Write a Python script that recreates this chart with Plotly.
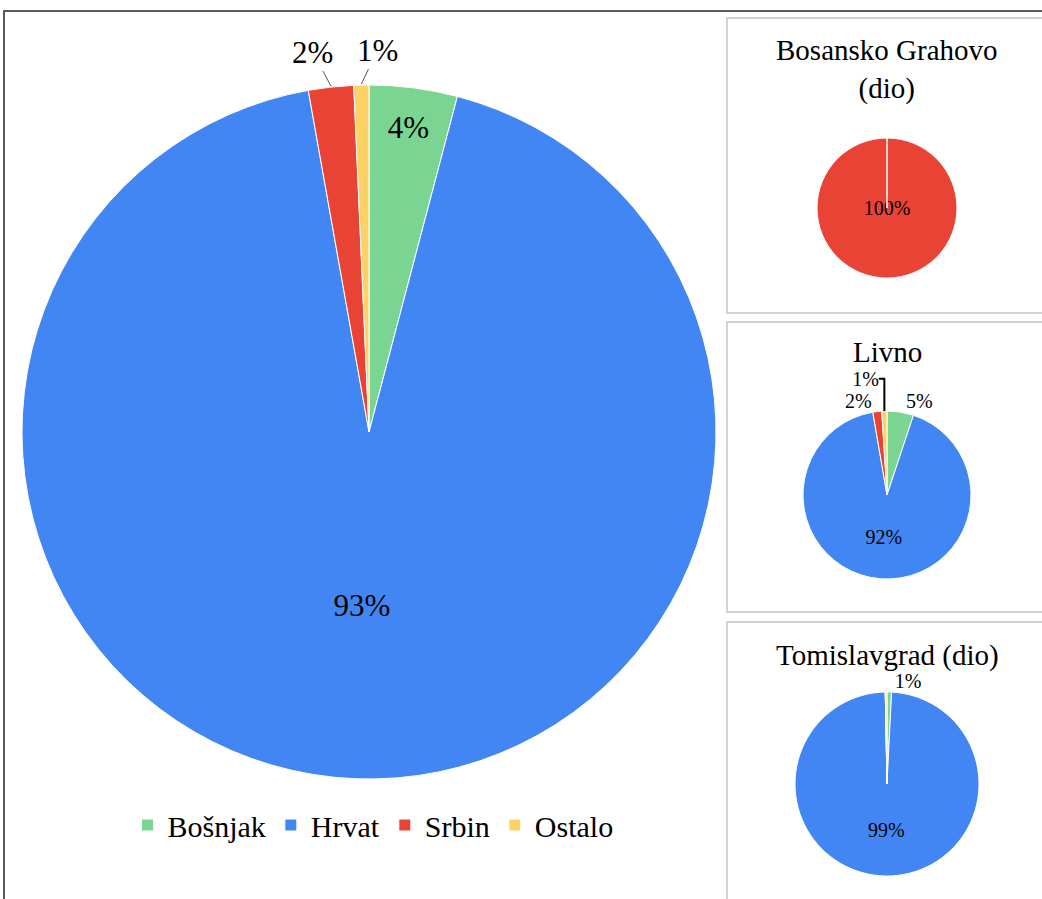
import math
import plotly.graph_objects as go

W, H = 1042, 899

categories = ["Bošnjak", "Hrvat", "Srbin", "Ostalo"]
colors = ["#7BD592", "#4286F3", "#E94335", "#FDD265"]

main_values = [4.1, 93.1, 2.1, 0.7]
grahovo_values = [0, 0, 100, 0]
livno_values = [5.1, 92.2, 1.7, 1.0]
tomislavgrad_values = [0.8, 98.9, 0.0, 0.3]

panel_titles = ["Bosansko Grahovo<br>(dio)", "Livno", "Tomislavgrad (dio)"]

FONT = "Liberation Serif"


def px_x(x):
    return x / W


def px_y(y):
    return 1 - y / H


def dom(cx, cy, r):
    return dict(x=[px_x(cx - r), px_x(cx + r)], y=[px_y(cy + r), px_y(cy - r)])


MAIN_C = (369, 432, 347)

fig = go.Figure()

fig.add_trace(go.Pie(
    labels=categories, values=main_values, sort=False, direction="clockwise", rotation=0,
    marker=dict(colors=colors, line=dict(color="white", width=1)),
    texttemplate="%{percent:.0%}",
    textposition=["inside", "inside", "none", "none"],
    insidetextorientation="horizontal",
    textfont=dict(family=FONT, size=31, color="black"),
    domain=dom(*MAIN_C), showlegend=True, hoverinfo="label+percent",
))

fig.add_trace(go.Pie(
    labels=categories, values=grahovo_values, sort=False, direction="clockwise", rotation=0,
    marker=dict(colors=colors, line=dict(color="white", width=1)),
    texttemplate="%{percent:.0%}",
    textposition="inside",
    insidetextorientation="horizontal",
    textfont=dict(family=FONT, size=20, color="black"),
    domain=dom(887, 208, 70), showlegend=False,
))

fig.add_trace(go.Pie(
    labels=categories, values=livno_values, sort=False, direction="clockwise", rotation=0,
    marker=dict(colors=colors, line=dict(color="white", width=1)),
    texttemplate="%{percent:.0%}",
    textposition=["outside", "inside", "outside", "outside"],
    insidetextorientation="horizontal",
    textfont=dict(family=FONT, size=20, color="black"),
    domain=dom(887, 495, 84), showlegend=False,
))

fig.add_trace(go.Pie(
    labels=categories, values=tomislavgrad_values, sort=False, direction="clockwise", rotation=0,
    marker=dict(colors=colors, line=dict(color="white", width=1)),
    texttemplate="%{percent:.0%}",
    textposition=["outside", "inside", "none", "none"],
    insidetextorientation="horizontal",
    textfont=dict(family=FONT, size=20, color="black"),
    domain=dom(887, 784, 92), showlegend=False,
))

shapes = [
    dict(type="rect", xref="paper", yref="paper", x0=px_x(4), x1=px_x(1060), y0=px_y(915), y1=px_y(11),
         line=dict(color="#5B5B5B", width=2)),
    dict(type="rect", xref="paper", yref="paper", x0=px_x(727), x1=px_x(1060), y0=px_y(313), y1=px_y(18),
         line=dict(color="#D3D3D3", width=2)),
    dict(type="rect", xref="paper", yref="paper", x0=px_x(727), x1=px_x(1060), y0=px_y(612), y1=px_y(322),
         line=dict(color="#D3D3D3", width=2)),
    dict(type="rect", xref="paper", yref="paper", x0=px_x(727), x1=px_x(1060), y0=px_y(915), y1=px_y(622),
         line=dict(color="#D3D3D3", width=2)),
]

annotations = [
    dict(text=panel_titles[0], x=px_x(887), y=px_y(70), xref="paper", yref="paper", showarrow=False,
         font=dict(family=FONT, size=29, color="black"), xanchor="center", yanchor="middle"),
    dict(text=panel_titles[1], x=px_x(887), y=px_y(352), xref="paper", yref="paper", showarrow=False,
         font=dict(family=FONT, size=29, color="black"), xanchor="center", yanchor="middle"),
    dict(text=panel_titles[2], x=px_x(887), y=px_y(655), xref="paper", yref="paper", showarrow=False,
         font=dict(family=FONT, size=29, color="black"), xanchor="center", yanchor="middle"),
]

# outside labels of the main pie (Srbin, Ostalo), placed at the slice mid-angle on the rim
total = sum(main_values)
cum = 0.0
mids = []
for v in main_values:
    mids.append((cum + v / 2) / total)
    cum += v
cx, cy, r = MAIN_C
label_offsets = {2: (-18, -34), 3: (16, -34)}
for i, (ax, ay) in label_offsets.items():
    ang = 2 * math.pi * mids[i]
    ex = cx + r * math.sin(ang)
    ey = cy - r * math.cos(ang)
    pct = round(main_values[i] / total * 100)
    annotations.append(dict(
        text=f"{max(pct, 1)}%", x=px_x(ex), y=px_y(ey - 1), xref="paper", yref="paper",
        showarrow=True, arrowhead=0, arrowwidth=1, arrowcolor="#555555", ax=ax, ay=ay,
        standoff=0, font=dict(family=FONT, size=31, color="black"),
    ))

fig.update_layout(
    width=W, height=H,
    margin=dict(l=0, r=0, t=0, b=0),
    paper_bgcolor="white", plot_bgcolor="white",
    shapes=shapes, annotations=annotations,
    legend=dict(orientation="h", x=px_x(373), xanchor="center", y=px_y(825), yanchor="middle",
                font=dict(family=FONT, size=30, color="black"), itemwidth=30, traceorder="normal"),
    font=dict(family=FONT),
)

fig.write_html("out.html", config={"displayModeBar": False},
               post_script="document.body.style.margin='0';document.body.style.padding='0';")
